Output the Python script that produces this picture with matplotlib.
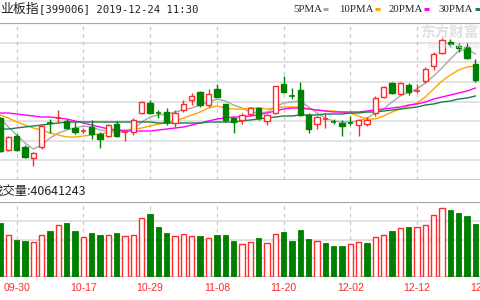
import numpy as np
import matplotlib.pyplot as plt
from matplotlib.patches import Rectangle
from matplotlib.lines import Line2D
import matplotlib.transforms as mtransforms

# ---- data (58 trading days) ----
opens = [1782, 1750, 1764, 1753, 1742, 1753, 1777.5, 1781.5, 1779, 1772,
         1768.5, 1773, 1766, 1764, 1776, 1768, 1768, 1787, 1797, 1787.5,
         1788, 1777, 1790, 1800, 1808, 1795, 1811, 1796, 1782, 1780,
         1786, 1792, 1779, 1787, 1816, 1804.5, 1810, 1785, 1776, 1780.5,
         1779, 1777, 1777.5, 1775, 1776, 1787, 1803, 1817, 1806, 1815,
         1809, 1819, 1834, 1847, 1858, 1854, 1853, 1836]
highs = [1783, 1764, 1766, 1755, 1748, 1775, 1781, 1790, 1781, 1778,
         1772, 1780, 1768, 1776, 1779, 1770, 1782, 1799, 1800, 1790,
         1792, 1790, 1800, 1807, 1809, 1811, 1816, 1796.5, 1783.5, 1787,
         1793, 1793, 1786, 1814, 1824, 1812, 1818, 1787, 1784, 1787,
         1781, 1780, 1784, 1781, 1783, 1804, 1814, 1818, 1818, 1817,
         1816, 1833, 1848, 1862, 1861, 1857, 1857, 1841]
lows = [1748, 1749, 1749, 1742, 1734, 1751, 1767, 1777, 1771, 1766,
        1767, 1761, 1752, 1763, 1763, 1759, 1765, 1786, 1786.5, 1782,
        1775, 1773, 1788, 1795, 1793, 1793, 1803, 1778, 1767, 1776,
        1784, 1780, 1775, 1786.5, 1807, 1801, 1784, 1767, 1771, 1772,
        1776, 1764, 1775, 1764, 1774, 1784, 1802.5, 1806, 1805, 1805,
        1807, 1817, 1830, 1846, 1853, 1848, 1841, 1818]
closes = [1749, 1763, 1750, 1743, 1747, 1774, 1776.5, 1782.5, 1772, 1768.5,
          1769.5, 1766, 1761, 1775, 1764, 1769, 1780, 1798, 1787, 1786.5,
          1778, 1787, 1796, 1804, 1795, 1806, 1803, 1780, 1778, 1785,
          1792, 1782, 1785, 1814, 1808, 1803.5, 1785, 1771, 1783, 1781,
          1778, 1774, 1777, 1780, 1780, 1802, 1813, 1807, 1817, 1808,
          1809.5, 1831, 1846, 1860, 1856, 1852, 1842, 1820]

ma5 = [1782, 1773, 1765, 1757, 1751, 1755, 1762, 1767, 1770, 1772,
       1774, 1773, 1770, 1769, 1768, 1768, 1771, 1778, 1783, 1785,
       1786, 1788, 1790, 1792, 1795, 1798, 1801, 1799, 1795, 1792,
       1788, 1787, 1788, 1793, 1797, 1798, 1799, 1793, 1787, 1782,
       1779, 1778, 1778, 1779, 1782, 1787, 1791, 1798, 1804, 1808,
       1811, 1817, 1824, 1832, 1841, 1849, 1851, 1846]
ma10 = [1785, 1782, 1778, 1775, 1772, 1770, 1767, 1765, 1763, 1763,
        1764, 1765, 1766, 1768, 1770, 1770, 1771, 1772, 1774, 1776,
        1777, 1779, 1782, 1785, 1788, 1792, 1794, 1792, 1791, 1791,
        1792, 1792, 1791, 1792, 1793, 1793, 1793, 1791, 1790, 1789,
        1789, 1788, 1787, 1784, 1781, 1781, 1784, 1788, 1791, 1794,
        1797, 1803, 1811, 1819, 1825, 1830, 1833, 1834]
ma20 = [1787, 1787, 1786, 1785, 1784, 1783, 1783, 1782, 1781, 1779,
        1777, 1775, 1773, 1771, 1770, 1769, 1769, 1769, 1769, 1770,
        1771, 1772, 1773, 1775, 1777, 1779, 1781, 1782, 1783, 1783,
        1784, 1785, 1787, 1789, 1791, 1792, 1792, 1791, 1790, 1789,
        1788, 1788, 1788, 1788, 1789, 1790, 1791, 1792, 1793, 1795,
        1796, 1798, 1801, 1803, 1805, 1807, 1809, 1812]
ma30 = [1771, 1771, 1772, 1773, 1774, 1775, 1776, 1777, 1778, 1778,
        1778, 1778, 1778, 1778, 1778, 1778, 1778, 1778, 1778, 1777,
        1777, 1777, 1777, 1777, 1777, 1778, 1778, 1778, 1778, 1779,
        1780, 1781, 1782, 1783, 1784, 1784, 1785, 1785, 1785, 1786,
        1786, 1786, 1787, 1787, 1788, 1788, 1789, 1790, 1791, 1792,
        1793, 1795, 1796, 1798, 1799, 1801, 1802, 1804]

# volume in millions, 1 = up day (red), 0 = down day (green)
volume = [41.6, 32.3, 28.4, 27.7, 26.7, 32.3, 35.5, 39.6, 41.6, 35.1,
          30.5, 34.0, 32.5, 32.5, 33.6, 31.5, 32.3, 45.4, 48.3, 38.1,
          33.6, 31.5, 33.2, 31.5, 31.5, 29.7, 32.5, 32.5, 27.7, 25.4,
          26.9, 30.0, 25.9, 33.2, 34.3, 27.7, 35.8, 29.0, 27.7, 25.9,
          24.1, 24.1, 25.2, 26.9, 25.9, 30.5, 32.5, 35.1, 37.4, 38.1,
          38.1, 39.6, 47.3, 52.8, 51.3, 49.0, 46.5, 40.6]
vol_up = [0, 1, 0, 0, 1, 1, 0, 1, 0, 0,
          1, 0, 0, 1, 0, 1, 1, 1, 0, 0,
          0, 1, 1, 1, 0, 1, 0, 0, 0, 1,
          1, 0, 1, 1, 0, 0, 0, 0, 1, 0,
          0, 0, 1, 1, 0, 1, 1, 0, 1, 0,
          1, 1, 1, 1, 0, 0, 0, 0]

date_labels = ["09-30", "10-17", "10-29", "11-08", "11-20", "12-02", "12-12", "12-24"]
date_pos = [2, 10, 18, 26, 34, 42, 50, 58]

ma_names = ["5PMA", "10PMA", "20PMA", "30PMA"]

RED = "#ff2a2a"
GREEN = "#008000"
MA_COLORS = ["#a8a8a8", "#ffa500", "#ff00ff", "#1a7f45"]
GRID = "#dadada"
BORDER = "#a6a6a6"
CJK = ["Noto Sans CJK SC", "DejaVu Sans"]

W, H = 480, 300
fig = plt.figure(figsize=(4.8, 3.0), dpi=100)
fig.patch.set_facecolor("white")


def fy(py):
    return 1 - py / H


n = len(closes)
xmax = W / 8.34  # one trading day is ~8.34 px

# ---------- price panel ----------
ax = fig.add_axes([0, fy(180), 1, (180 - 23) / H])
ax.set_xlim(0, xmax)
ax.set_ylim(1720, 1877)
ax.axis("off")

for k, yv in enumerate(np.linspace(1720, 1877, 9)):
    if k == 8:
        ax.axhline(yv, color=BORDER, lw=1.6, zorder=1)
    elif k == 0:
        ax.axhline(yv, color="#bdbdbd", lw=1.2, zorder=1)
    else:
        ax.axhline(yv, color=GRID, lw=1.1, zorder=1)
for p in date_pos:
    ax.axvline(p, color="#c8c8c8", lw=0.9, dashes=(3, 3), zorder=1)

for ma, c in zip([ma5, ma10, ma20, ma30], MA_COLORS):
    ax.plot(range(n), ma, color=c, lw=1.0, zorder=2)

w = 0.64
for i in range(n):
    o, h, l, c = opens[i], highs[i], lows[i], closes[i]
    col = RED if c >= o else GREEN
    ax.vlines(i, l, h, color=col, lw=1.0, zorder=3)
    if abs(c - o) < 1.2:
        ax.hlines((o + c) / 2, i - w / 2, i + w / 2, color=col, lw=1.2, zorder=4)
    else:
        face = "white" if c >= o else GREEN
        ax.add_patch(Rectangle((i - w / 2, min(o, c)), w, abs(c - o),
                               facecolor=face, edgecolor=col, lw=1.0, zorder=4))

# ---------- volume panel ----------
axv = fig.add_axes([0, fy(277.3), 1, (277.3 - 202) / H])
axv.set_xlim(0, xmax)
axv.set_ylim(0, 57.4)
axv.axis("off")
for k, yv in enumerate(np.linspace(0, 57.4, 5)):
    if k in (0, 4):
        axv.axhline(yv, color=BORDER, lw=1.6, zorder=1)
    else:
        axv.axhline(yv, color=GRID, lw=1.1, zorder=1)
for p in date_pos:
    axv.axvline(p, color="#c8c8c8", lw=0.9, dashes=(3, 3), zorder=1)

for i in range(n):
    if vol_up[i]:
        axv.add_patch(Rectangle((i - w / 2, 0), w, volume[i], facecolor="white",
                                edgecolor=RED, lw=1.0, zorder=3))
    else:
        axv.add_patch(Rectangle((i - w / 2, 0), w, volume[i], facecolor=GREEN,
                                edgecolor=GREEN, lw=0.6, zorder=3))

trans = mtransforms.blended_transform_factory(axv.transData, axv.transAxes)
for p, lab in zip(date_pos, date_labels):
    axv.text(p, (277.3 - 288) / 75.3, lab, transform=trans, ha="center", va="center",
             color=RED, fontsize=7.6, family="Liberation Sans", clip_on=False)

# ---------- header texts ----------
# index name (its first character lies left of the visible crop)
fig.text(0, fy(9), "业板指", family=CJK, fontsize=9.3,
         ha="left", va="center", color="#222222")
fig.text(39 / W, fy(9), "[399006] 2019-12-24 11:30", family="DejaVu Sans Mono",
         fontsize=7.7, ha="left", va="center", color="#222222")
fig.text(-9 / W, fy(191.5), "成交量:40641243", family=CJK,
         fontsize=8.9, ha="left", va="center", color="#222222")

leg_x = [293, 339, 389, 438]
dash_x = [323, 375, 424, 475]
for name, c, tx, dx in zip(ma_names, MA_COLORS, leg_x, dash_x):
    fig.text(tx / W, fy(9), name, family="Liberation Serif", fontsize=7.8,
             ha="left", va="center", color="#222222")
    fig.add_artist(Line2D([dx / W, (dx + 5) / W], [fy(9), fy(9)],
                          transform=fig.transFigure, color=c, lw=2.2,
                          solid_capstyle="butt"))

# faint watermark
fig.text(420 / W, fy(33), "东方财富网", family=CJK, fontsize=10.5, weight="bold",
         ha="left", va="center", color="#e0e0e0", zorder=0)
fig.text(428 / W, fy(46), "eastmoney.com", family=CJK, fontsize=5.5,
         ha="left", va="center", color="#e0e0e0", zorder=0)

fig.savefig("out.png", dpi=100)
